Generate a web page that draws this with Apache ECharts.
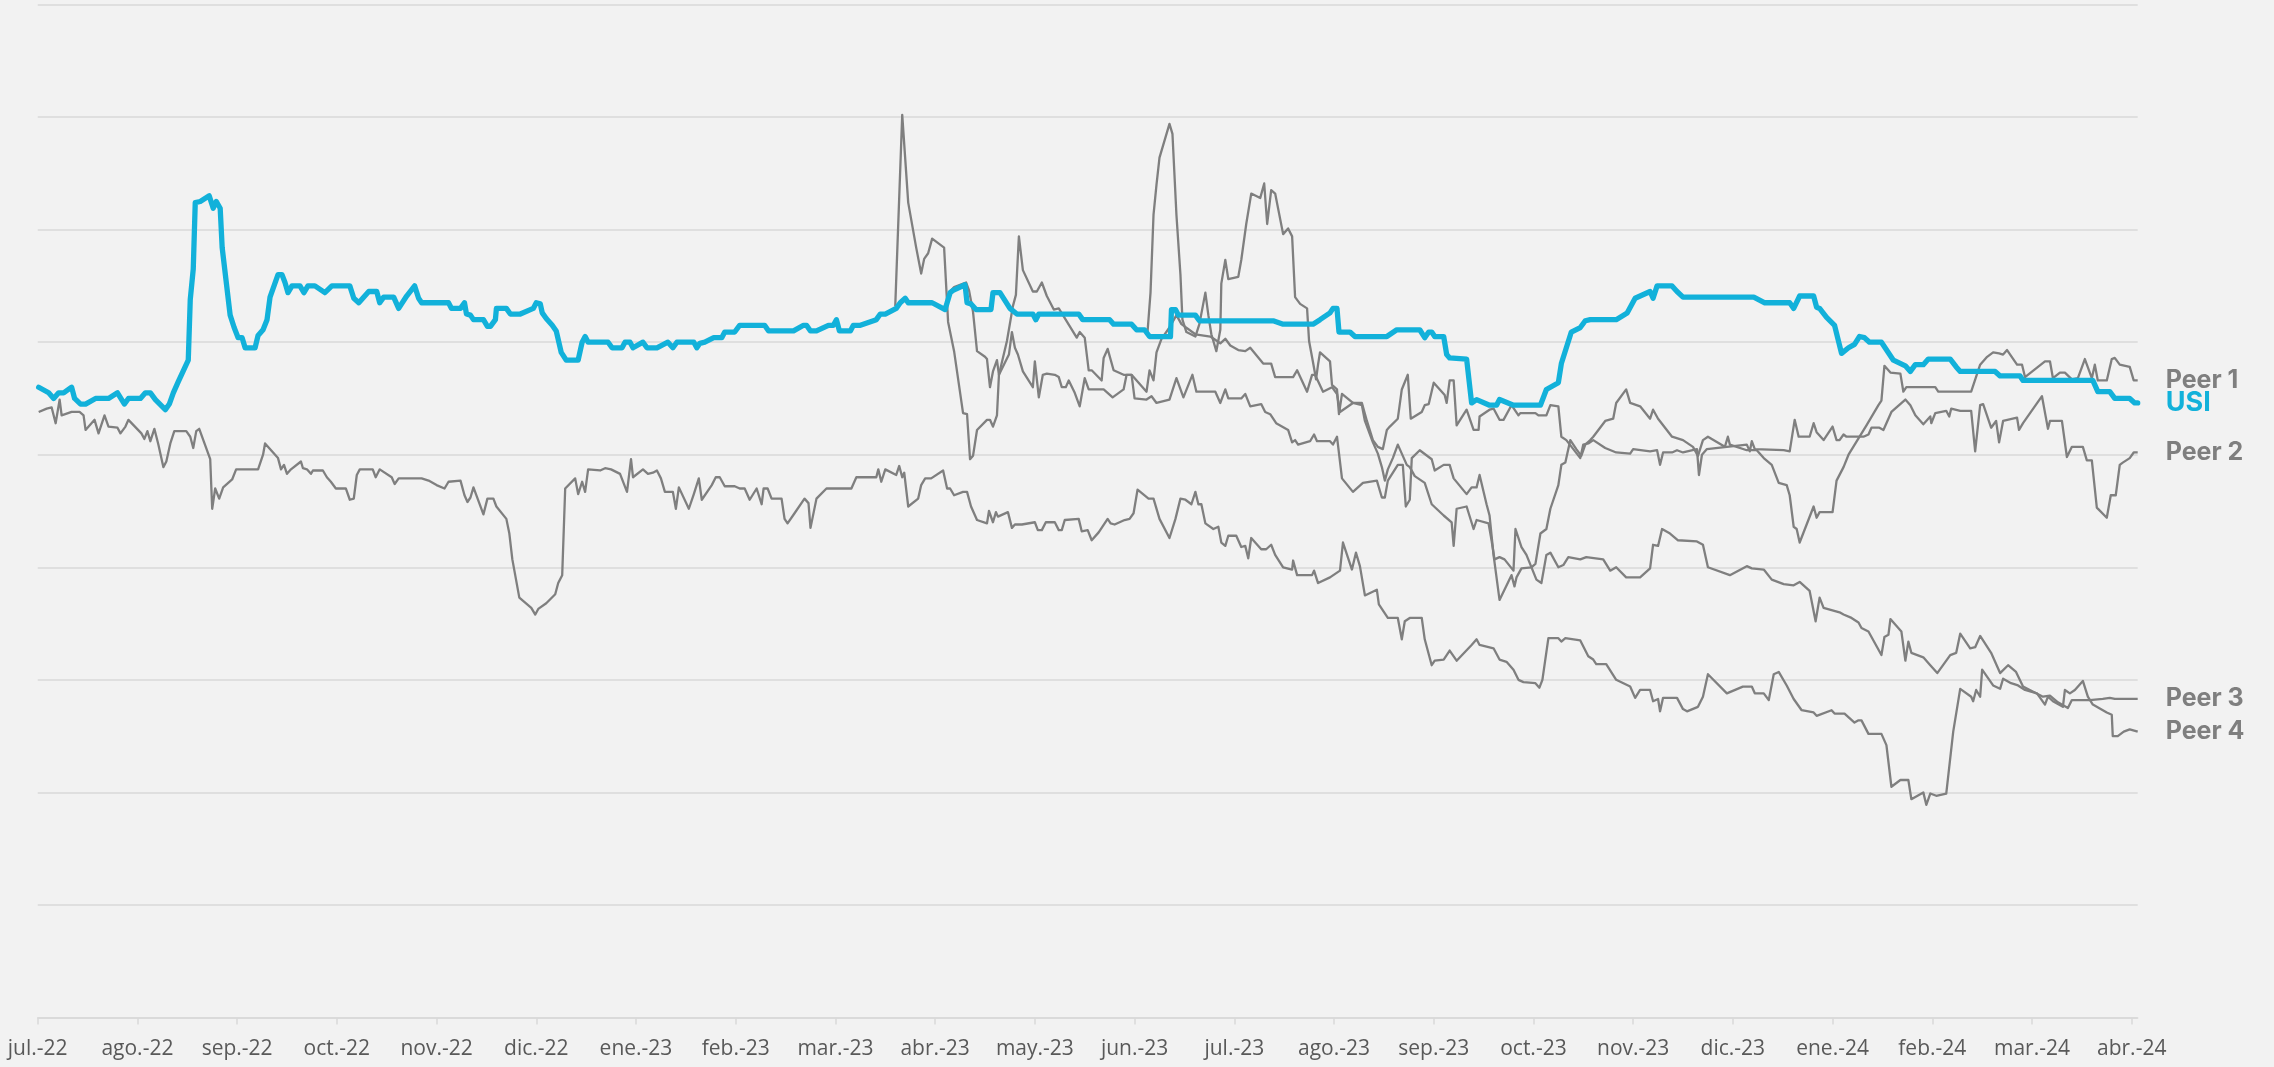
<!DOCTYPE html>
<html>
<head>
<meta charset="utf-8">
<script src="https://cdn.jsdelivr.net/npm/echarts@6/dist/echarts.min.js"></script>
<style>
  html, body { margin: 0; padding: 0; background: #f2f2f2; }
  #chart { width: 2274px; height: 1067px; }
</style>
</head>
<body>
<div id="chart"></div>
<script>
// month tick labels, x is measured in months from jul.-22
const monthLabels = ['jul.-22','ago.-22','sep.-22','oct.-22','nov.-22','dic.-22','ene.-23','feb.-23','mar.-23','abr.-23','may.-23','jun.-23',
  'jul.-23','ago.-23','sep.-23','oct.-23','nov.-23','dic.-23','ene.-24','feb.-24','mar.-24','abr.-24'];
const monthTicks = monthLabels.map((_, i) => i);

const usi = [
  [0.01,5.60],[0.11,5.55],[0.16,5.50],[0.21,5.55],[0.26,5.55],[0.34,5.60],[0.37,5.50],[0.43,5.45],[0.48,5.45],[0.58,5.50],
  [0.71,5.50],[0.80,5.55],[0.87,5.45],[0.91,5.50],[1.03,5.50],[1.08,5.55],[1.13,5.55],[1.18,5.49],[1.28,5.40],[1.32,5.45],
  [1.36,5.55],[1.41,5.65],[1.51,5.84],[1.53,6.38],[1.56,6.65],[1.58,7.24],[1.63,7.25],[1.72,7.30],[1.76,7.19],[1.79,7.25],
  [1.83,7.19],[1.85,6.84],[1.93,6.24],[1.97,6.13],[2.01,6.04],[2.05,6.04],[2.08,5.95],[2.18,5.95],[2.21,6.06],[2.26,6.11],
  [2.30,6.20],[2.33,6.40],[2.41,6.60],[2.45,6.60],[2.48,6.53],[2.51,6.44],[2.55,6.50],[2.63,6.50],[2.67,6.44],[2.71,6.50],
  [2.78,6.50],[2.88,6.44],[2.95,6.50],[3.13,6.50],[3.17,6.39],[3.22,6.35],[3.32,6.45],[3.40,6.45],[3.43,6.35],[3.47,6.40],
  [3.57,6.40],[3.62,6.30],[3.70,6.41],[3.78,6.50],[3.82,6.39],[3.85,6.35],[4.12,6.35],[4.15,6.30],[4.24,6.30],[4.28,6.35],
  [4.30,6.25],[4.34,6.24],[4.37,6.20],[4.47,6.20],[4.51,6.14],[4.54,6.14],[4.59,6.20],[4.60,6.30],[4.70,6.30],[4.74,6.25],
  [4.84,6.25],[4.97,6.30],[5.00,6.35],[5.04,6.34],[5.06,6.26],[5.10,6.21],[5.16,6.15],[5.20,6.10],[5.25,5.91],[5.30,5.84],
  [5.42,5.84],[5.46,6.00],[5.49,6.05],[5.52,6.00],[5.72,6.00],[5.76,5.95],[5.86,5.95],[5.89,6.00],[5.94,6.00],[5.97,5.95],
  [6.07,6.00],[6.11,5.95],[6.21,5.95],[6.32,6.00],[6.37,5.95],[6.41,6.00],[6.58,6.00],[6.61,5.95],[6.64,5.99],[6.69,6.00],
  [6.78,6.04],[6.86,6.04],[6.89,6.09],[6.99,6.09],[7.04,6.15],[7.29,6.15],[7.33,6.10],[7.58,6.10],[7.68,6.15],[7.71,6.15],
  [7.75,6.10],[7.81,6.10],[7.93,6.15],[7.98,6.15],[8.01,6.20],[8.04,6.10],[8.15,6.10],[8.18,6.15],[8.25,6.15],[8.41,6.20],
  [8.45,6.25],[8.50,6.25],[8.61,6.30],[8.65,6.35],[8.70,6.39],[8.73,6.35],[8.97,6.35],[9.10,6.29],[9.15,6.44],[9.18,6.46],
  [9.30,6.51],[9.32,6.35],[9.36,6.34],[9.41,6.29],[9.56,6.29],[9.58,6.44],[9.65,6.44],[9.75,6.30],[9.82,6.25],[9.98,6.25],
  [10.01,6.20],[10.04,6.25],[10.44,6.25],[10.48,6.20],[10.75,6.20],[10.79,6.16],[10.97,6.16],[11.02,6.11],[11.10,6.11],[11.15,6.05],
  [11.36,6.05],[11.37,6.29],[11.41,6.29],[11.44,6.24],[11.61,6.24],[11.65,6.19],[12.39,6.19],[12.49,6.16],[12.79,6.16],[12.86,6.20],
  [12.96,6.26],[12.99,6.30],[13.03,6.30],[13.05,6.09],[13.16,6.09],[13.21,6.05],[13.53,6.05],[13.63,6.11],[13.86,6.11],[13.91,6.04],
  [13.95,6.09],[13.98,6.09],[14.01,6.05],[14.10,6.05],[14.13,5.89],[14.16,5.86],[14.33,5.85],[14.38,5.46],[14.43,5.49],[14.56,5.44],
  [14.63,5.44],[14.66,5.49],[14.80,5.44],[15.07,5.44],[15.13,5.58],[15.25,5.64],[15.28,5.81],[15.38,6.09],[15.47,6.13],[15.52,6.19],
  [15.57,6.20],[15.83,6.20],[15.94,6.26],[16.02,6.39],[16.07,6.41],[16.17,6.45],[16.20,6.39],[16.24,6.50],[16.39,6.50],[16.44,6.45],
  [16.50,6.40],[17.21,6.40],[17.32,6.35],[17.57,6.35],[17.61,6.30],[17.67,6.41],[17.81,6.41],[17.84,6.31],[17.87,6.30],[17.94,6.22],
  [18.02,6.15],[18.09,5.90],[18.16,5.95],[18.22,5.98],[18.27,6.05],[18.32,6.04],[18.37,6.00],[18.49,6.00],[18.61,5.84],[18.73,5.79],
  [18.78,5.74],[18.83,5.80],[18.91,5.80],[18.96,5.85],[19.18,5.85],[19.24,5.78],[19.28,5.74],[19.63,5.74],[19.68,5.70],[19.88,5.70],
  [19.91,5.66],[20.61,5.66],[20.66,5.56],[20.78,5.56],[20.83,5.50],[20.98,5.50],[21.03,5.46],[21.06,5.46]
];

const peer1 = [
  [8.60,6.32],[8.67,8.02],[8.73,7.24],[8.81,6.84],[8.86,6.61],[8.89,6.74],[8.93,6.79],[8.97,6.92],[9.09,6.84],[9.13,6.18],
  [9.19,5.92],[9.28,5.37],[9.32,5.36],[9.35,4.96],[9.38,4.99],[9.42,5.22],[9.52,5.31],[9.55,5.31],[9.58,5.25],[9.62,5.35],
  [9.64,5.71],[9.72,6.01],[9.78,6.32],[9.81,6.42],[9.84,6.94],[9.88,6.64],[9.98,6.45],[10.02,6.45],[10.07,6.53],[10.12,6.41],
  [10.19,6.29],[10.24,6.30],[10.42,6.04],[10.45,6.09],[10.50,6.04],[10.54,5.75],[10.57,5.75],[10.67,5.66],[10.69,5.86],[10.73,5.94],
  [10.79,5.75],[10.89,5.71],[10.97,5.71],[11.00,5.50],[11.12,5.49],[11.17,5.52],[11.22,5.46],[11.35,5.49],[11.42,5.68],[11.49,5.51],
  [11.58,5.71],[11.62,5.56],[11.81,5.56],[11.86,5.46],[11.91,5.58],[11.94,5.50],[12.07,5.50],[12.11,5.54],[12.16,5.43],[12.27,5.45],
  [12.31,5.38],[12.36,5.36],[12.42,5.28],[12.54,5.22],[12.58,5.11],[12.61,5.13],[12.64,5.09],[12.76,5.12],[12.80,5.18],[12.83,5.12],
  [12.96,5.12],[12.99,5.09],[13.03,5.16],[13.08,4.79],[13.19,4.67],[13.29,4.75],[13.43,4.77],[13.48,4.62],[13.51,4.62],[13.54,4.77],
  [13.64,4.91],[13.69,4.91],[13.72,4.54],[13.76,4.60],[13.78,4.97],[13.86,5.04],[13.98,4.96],[14.01,4.86],[14.10,4.91],[14.16,4.91],
  [14.20,4.79],[14.33,4.65],[14.38,4.71],[14.43,4.71],[14.46,4.82],[14.53,4.56],[14.56,4.46],[14.60,4.11],[14.66,3.71],[14.78,3.93],
  [14.81,3.83],[14.83,3.91],[14.88,3.99],[14.98,4.00],[15.02,4.03],[15.07,4.30],[15.13,4.34],[15.17,4.52],[15.25,4.73],[15.28,4.91],
  [15.32,4.93],[15.37,5.13],[15.43,5.05],[15.48,4.99],[15.52,5.09],[15.57,5.13],[15.60,5.16],[15.72,5.30],[15.80,5.32],[15.83,5.46],
  [15.93,5.58],[15.97,5.46],[16.07,5.43],[16.17,5.32],[16.20,5.40],[16.25,5.32],[16.39,5.16],[16.50,5.13],[16.60,5.07],[16.65,4.99],
  [16.70,5.13],[16.75,5.16],[16.92,5.07],[16.95,5.16],[16.97,5.09],[17.14,5.04],[17.24,5.04],[17.31,4.97],[17.39,4.91],[17.46,4.75],
  [17.54,4.73],[17.57,4.64],[17.61,4.36],[17.64,4.34],[17.67,4.22],[17.81,4.54],[17.84,4.44],[17.87,4.49],[18.00,4.49],[18.04,4.77],
  [18.11,4.89],[18.16,5.00],[18.34,5.26],[18.46,5.44],[18.49,5.48],[18.52,5.79],[18.58,5.73],[18.68,5.72],[18.71,5.56],[18.74,5.60],
  [19.03,5.60],[19.06,5.56],[19.39,5.56],[19.48,5.80],[19.55,5.87],[19.61,5.91],[19.67,5.90],[19.71,5.89],[19.75,5.93],[19.85,5.80],
  [19.90,5.80],[19.93,5.69],[20.13,5.83],[20.18,5.83],[20.21,5.68],[20.28,5.73],[20.33,5.73],[20.40,5.67],[20.46,5.68],[20.53,5.85],
  [20.60,5.68],[20.63,5.80],[20.66,5.66],[20.75,5.66],[20.80,5.85],[20.83,5.86],[20.88,5.80],[20.98,5.78],[21.02,5.66],[21.06,5.66]
];

const peer2 = [
  [11.13,6.09],[11.16,6.44],[11.19,7.13],[11.22,7.40],[11.25,7.64],[11.35,7.94],[11.38,7.85],[11.42,7.13],[11.46,6.60],[11.48,6.20],
  [11.52,6.09],[11.61,6.05],[11.65,6.16],[11.71,6.44],[11.74,6.24],[11.77,6.07],[11.82,5.92],[11.86,6.11],[11.87,6.52],[11.91,6.73],
  [11.94,6.56],[12.04,6.58],[12.07,6.73],[12.12,7.05],[12.17,7.32],[12.26,7.28],[12.30,7.41],[12.33,7.05],[12.37,7.35],[12.41,7.32],
  [12.49,6.96],[12.54,7.01],[12.58,6.94],[12.61,6.40],[12.66,6.34],[12.73,6.30],[12.75,6.01],[12.79,5.82],[12.82,5.67],[12.84,5.80],
  [12.86,5.91],[12.96,5.83],[12.98,5.62],[13.03,5.58],[13.05,5.36],[13.08,5.54],[13.19,5.46],[13.28,5.46],[13.33,5.30],[13.39,5.13],
  [13.44,5.07],[13.49,5.05],[13.53,5.22],[13.56,5.25],[13.64,5.32],[13.68,5.58],[13.74,5.71],[13.77,5.32],[13.88,5.38],[13.91,5.44],
  [13.95,5.45],[14.00,5.64],[14.11,5.53],[14.13,5.46],[14.16,5.66],[14.20,5.66],[14.23,5.26],[14.33,5.40],[14.40,5.22],[14.45,5.22],
  [14.46,5.34],[14.56,5.40],[14.60,5.41],[14.66,5.31],[14.70,5.31],[14.78,5.44],[14.85,5.35],[14.87,5.37],[15.02,5.37],[15.05,5.35],
  [15.13,5.35],[15.17,5.44],[15.25,5.43],[15.28,5.16],[15.33,5.13],[15.47,4.97],[15.50,5.09],[15.55,5.10],[15.60,5.13],[15.72,5.06],
  [15.83,5.02],[15.97,5.01],[16.00,5.05],[16.17,5.03],[16.24,5.04],[16.27,4.91],[16.30,5.02],[16.39,5.02],[16.44,5.04],[16.50,5.02],
  [16.64,5.05],[16.66,4.82],[16.69,5.00],[16.74,5.05],[16.94,5.07],[17.14,5.09],[17.17,5.03],[17.19,5.12],[17.22,5.05],[17.51,5.04],
  [17.57,5.03],[17.62,5.31],[17.66,5.16],[17.77,5.16],[17.81,5.28],[17.84,5.20],[17.91,5.13],[18.00,5.25],[18.04,5.13],[18.07,5.13],
  [18.11,5.18],[18.14,5.16],[18.31,5.16],[18.36,5.18],[18.39,5.24],[18.47,5.24],[18.51,5.22],[18.54,5.28],[18.59,5.38],[18.73,5.49],
  [18.78,5.44],[18.83,5.35],[18.91,5.27],[18.98,5.34],[18.99,5.28],[19.03,5.37],[19.14,5.39],[19.17,5.34],[19.19,5.41],[19.28,5.39],
  [19.39,5.39],[19.43,5.03],[19.48,5.44],[19.51,5.45],[19.59,5.24],[19.64,5.30],[19.67,5.11],[19.71,5.30],[19.85,5.33],[19.87,5.22],
  [19.91,5.28],[20.10,5.52],[20.16,5.23],[20.18,5.30],[20.30,5.30],[20.35,4.98],[20.40,5.07],[20.51,5.07],[20.55,4.95],[20.60,4.95],
  [20.65,4.53],[20.75,4.44],[20.79,4.64],[20.84,4.64],[20.88,4.91],[20.91,4.93],[20.98,4.97],[21.02,5.02],[21.06,5.02]
];

const peer3 = [
  [9.14,6.44],[9.19,6.49],[9.31,6.53],[9.34,6.46],[9.38,6.27],[9.42,5.92],[9.50,5.87],[9.52,5.85],[9.55,5.60],[9.58,5.74],
  [9.62,5.84],[9.64,5.71],[9.74,5.89],[9.77,6.09],[9.80,5.95],[9.83,5.89],[9.88,5.74],[9.98,5.60],[10.00,5.83],[10.04,5.51],
  [10.08,5.71],[10.12,5.72],[10.20,5.71],[10.24,5.69],[10.27,5.60],[10.31,5.60],[10.34,5.66],[10.40,5.55],[10.45,5.43],[10.50,5.68],
  [10.54,5.58],[10.69,5.58],[10.78,5.51],[10.80,5.51],[10.89,5.58],[10.92,5.71],[10.97,5.71],[11.12,5.56],[11.15,5.75],[11.19,5.66],
  [11.22,5.91],[11.27,6.03],[11.35,6.13],[11.42,6.24],[11.47,6.16],[11.61,6.07],[11.76,6.05],[11.86,5.99],[11.91,6.03],[11.96,5.97],
  [12.04,5.93],[12.11,5.92],[12.16,5.95],[12.29,5.81],[12.37,5.81],[12.41,5.69],[12.59,5.69],[12.63,5.75],[12.73,5.56],[12.78,5.71],
  [12.81,5.71],[12.89,5.56],[12.98,5.60],[13.03,5.54],[13.06,5.38],[13.19,5.46],[13.28,5.44],[13.31,5.30],[13.39,5.11],[13.44,5.01],
  [13.48,4.89],[13.51,4.77],[13.54,4.87],[13.59,4.97],[13.64,5.09],[13.69,4.99],[13.73,4.91],[13.76,4.89],[13.81,4.81],[13.91,4.75],
  [13.98,4.56],[14.10,4.46],[14.18,4.40],[14.20,4.19],[14.23,4.52],[14.33,4.54],[14.40,4.34],[14.43,4.42],[14.55,4.39],[14.58,4.24],
  [14.61,4.07],[14.66,4.09],[14.71,4.07],[14.80,3.97],[14.82,4.34],[14.88,4.18],[14.93,4.11],[15.03,3.89],[15.08,3.86],[15.13,4.11],
  [15.17,4.13],[15.25,4.00],[15.30,4.02],[15.35,4.09],[15.47,4.07],[15.53,4.09],[15.70,4.07],[15.77,3.97],[15.83,4.00],[15.93,3.91],
  [16.07,3.91],[16.17,3.99],[16.20,4.20],[16.25,4.19],[16.29,4.34],[16.37,4.30],[16.45,4.24],[16.64,4.23],[16.70,4.20],[16.75,4.00],
  [16.97,3.93],[17.14,4.01],[17.19,3.99],[17.31,3.98],[17.39,3.89],[17.51,3.85],[17.61,3.84],[17.67,3.87],[17.77,3.79],[17.83,3.52],
  [17.87,3.73],[17.91,3.64],[18.07,3.60],[18.11,3.58],[18.19,3.55],[18.26,3.51],[18.29,3.46],[18.36,3.43],[18.49,3.22],[18.52,3.38],
  [18.56,3.40],[18.58,3.54],[18.69,3.43],[18.73,3.17],[18.76,3.34],[18.79,3.24],[18.91,3.20],[18.98,3.13],[19.05,3.06],[19.18,3.22],
  [19.24,3.24],[19.28,3.41],[19.38,3.28],[19.43,3.29],[19.48,3.39],[19.59,3.24],[19.68,3.06],[19.76,3.13],[19.84,3.07],[19.91,2.94],
  [20.11,2.85],[20.18,2.86],[20.26,2.80],[20.36,2.75],[20.40,2.82],[20.58,2.82],[20.71,2.83],[20.78,2.84],[20.83,2.83],[21.06,2.83]
];

const peer4 = [
  [0.01,5.38],[0.09,5.41],[0.14,5.42],[0.18,5.28],[0.22,5.49],[0.24,5.35],[0.34,5.38],[0.42,5.38],[0.46,5.35],[0.48,5.22],
  [0.57,5.31],[0.61,5.19],[0.67,5.35],[0.71,5.25],[0.80,5.24],[0.83,5.19],[0.88,5.25],[0.91,5.31],[0.93,5.31],[1.04,5.19],
  [1.07,5.14],[1.10,5.21],[1.13,5.12],[1.17,5.23],[1.21,5.09],[1.26,4.89],[1.29,4.94],[1.33,5.10],[1.37,5.21],[1.39,5.22],
  [1.49,5.21],[1.53,5.16],[1.56,5.06],[1.59,5.21],[1.62,5.23],[1.73,4.96],[1.75,4.52],[1.78,4.70],[1.82,4.61],[1.86,4.71],
  [1.95,4.78],[1.99,4.87],[2.21,4.87],[2.26,5.00],[2.28,5.10],[2.41,4.97],[2.44,4.87],[2.47,4.91],[2.50,4.83],[2.54,4.87],
  [2.64,4.94],[2.66,4.88],[2.70,4.87],[2.74,4.83],[2.76,4.86],[2.86,4.86],[2.90,4.80],[2.94,4.76],[2.96,4.76],[2.99,4.70],
  [3.09,4.70],[3.13,4.60],[3.17,4.61],[3.20,4.82],[3.23,4.87],[3.36,4.87],[3.39,4.80],[3.43,4.87],[3.55,4.80],[3.58,4.74],
  [3.62,4.79],[3.85,4.79],[3.92,4.77],[4.00,4.73],[4.08,4.70],[4.12,4.76],[4.24,4.77],[4.28,4.64],[4.31,4.58],[4.34,4.62],
  [4.37,4.71],[4.47,4.47],[4.51,4.61],[4.57,4.61],[4.60,4.54],[4.70,4.43],[4.73,4.30],[4.76,4.07],[4.83,3.73],[4.95,3.64],
  [4.99,3.58],[5.02,3.63],[5.10,3.68],[5.19,3.76],[5.22,3.86],[5.26,3.93],[5.29,4.70],[5.39,4.79],[5.42,4.65],[5.46,4.76],
  [5.49,4.67],[5.52,4.87],[5.64,4.86],[5.69,4.88],[5.75,4.87],[5.84,4.83],[5.91,4.67],[5.95,4.96],[5.97,4.80],[6.07,4.87],
  [6.12,4.83],[6.17,4.84],[6.21,4.86],[6.25,4.79],[6.29,4.67],[6.37,4.67],[6.40,4.52],[6.43,4.71],[6.53,4.52],[6.58,4.65],
  [6.63,4.79],[6.66,4.60],[6.76,4.73],[6.80,4.80],[6.84,4.80],[6.89,4.72],[6.99,4.72],[7.04,4.70],[7.09,4.70],[7.14,4.60],
  [7.21,4.70],[7.26,4.56],[7.28,4.70],[7.32,4.70],[7.36,4.61],[7.46,4.61],[7.49,4.43],[7.52,4.39],[7.59,4.48],[7.69,4.61],
  [7.73,4.57],[7.75,4.35],[7.81,4.61],[7.91,4.70],[8.16,4.70],[8.21,4.80],[8.41,4.80],[8.43,4.87],[8.46,4.76],[8.50,4.87],
  [8.61,4.82],[8.64,4.90],[8.67,4.80],[8.69,4.84],[8.73,4.54],[8.83,4.61],[8.86,4.73],[8.90,4.79],[8.96,4.79],[9.08,4.86],
  [9.12,4.70],[9.15,4.70],[9.19,4.64],[9.28,4.67],[9.32,4.67],[9.36,4.54],[9.38,4.54],[9.42,4.42],[9.52,4.39],[9.54,4.50],
  [9.58,4.40],[9.61,4.49],[9.63,4.45],[9.73,4.49],[9.77,4.35],[9.80,4.38],[9.87,4.38],[10.00,4.40],[10.03,4.33],[10.07,4.33],
  [10.11,4.40],[10.20,4.40],[10.24,4.33],[10.27,4.33],[10.30,4.42],[10.44,4.43],[10.47,4.32],[10.53,4.33],[10.57,4.24],[10.64,4.31],
  [10.67,4.35],[10.69,4.35],[10.73,4.43],[10.76,4.39],[10.80,4.38],[10.90,4.42],[10.95,4.43],[10.99,4.48],[11.03,4.69],[11.14,4.61],
  [11.19,4.61],[11.25,4.43],[11.35,4.26],[11.41,4.43],[11.46,4.61],[11.51,4.60],[11.57,4.56],[11.61,4.67],[11.64,4.56],[11.67,4.56],
  [11.71,4.39],[11.79,4.34],[11.84,4.36],[11.87,4.22],[11.91,4.19],[11.94,4.28],[12.02,4.28],[12.07,4.18],[12.11,4.19],[12.14,4.08],
  [12.17,4.26],[12.27,4.16],[12.32,4.16],[12.37,4.20],[12.41,4.11],[12.49,4.00],[12.58,3.98],[12.59,4.06],[12.63,3.93],[12.78,3.93],
  [12.80,3.97],[12.84,3.86],[12.96,3.91],[13.06,3.97],[13.09,4.22],[13.18,3.98],[13.22,4.13],[13.26,4.01],[13.31,3.75],[13.43,3.80],
  [13.45,3.67],[13.54,3.55],[13.64,3.55],[13.68,3.36],[13.71,3.52],[13.76,3.55],[13.88,3.55],[13.91,3.36],[13.98,3.13],[14.01,3.17],
  [14.10,3.18],[14.16,3.26],[14.23,3.17],[14.38,3.31],[14.43,3.36],[14.46,3.31],[14.60,3.28],[14.66,3.18],[14.73,3.16],[14.80,3.09],
  [14.85,3.00],[14.90,2.98],[15.02,2.97],[15.06,2.93],[15.09,3.00],[15.15,3.37],[15.25,3.37],[15.28,3.34],[15.32,3.37],[15.47,3.35],
  [15.55,3.21],[15.60,3.18],[15.63,3.14],[15.73,3.14],[15.83,3.00],[15.97,2.94],[16.02,2.84],[16.07,2.91],[16.17,2.91],[16.20,2.81],
  [16.25,2.83],[16.27,2.72],[16.30,2.84],[16.44,2.84],[16.50,2.74],[16.54,2.72],[16.65,2.76],[16.70,2.85],[16.75,3.05],[16.94,2.88],
  [17.10,2.94],[17.19,2.94],[17.22,2.88],[17.31,2.88],[17.36,2.82],[17.41,3.05],[17.46,3.07],[17.54,2.95],[17.61,2.83],[17.69,2.73],
  [17.81,2.71],[17.84,2.68],[17.99,2.73],[18.02,2.70],[18.12,2.70],[18.22,2.62],[18.26,2.64],[18.29,2.64],[18.36,2.52],[18.49,2.52],
  [18.54,2.42],[18.59,2.05],[18.68,2.11],[18.76,2.11],[18.79,1.94],[18.91,2.00],[18.94,1.89],[18.98,1.99],[19.04,1.97],[19.14,1.99],
  [19.21,2.54],[19.28,2.92],[19.39,2.85],[19.41,2.81],[19.44,2.91],[19.48,2.85],[19.50,3.09],[19.61,2.95],[19.68,2.92],[19.71,3.01],
  [19.79,2.97],[19.86,2.95],[19.93,2.91],[20.05,2.88],[20.13,2.78],[20.16,2.85],[20.21,2.81],[20.31,2.76],[20.33,2.91],[20.38,2.88],
  [20.43,2.91],[20.51,2.99],[20.56,2.85],[20.61,2.78],[20.75,2.71],[20.80,2.69],[20.81,2.50],[20.86,2.50],[20.92,2.54],[20.98,2.56],
  [21.06,2.54]
];

const grey = '#7f7f7f';
const blue = '#12b1da';

function peerSeries(name, data) {
  return {
    name: name,
    type: 'line',
    data: data,
    showSymbol: false,
    lineStyle: { color: grey, width: 2.3, join: 'round' },
    endLabel: {
      show: true,
      formatter: '{a}',
      distance: 28,
      color: grey,
      fontFamily: 'Inter',
      fontWeight: 'bold',
      fontSize: 25
    }
  };
}

const chart = echarts.init(document.getElementById('chart'));
chart.setOption({
  animation: false,
  backgroundColor: '#f2f2f2',
  grid: { left: 37.7, right: 136.3, top: 4.5, bottom: 49.5 },
  xAxis: {
    type: 'value',
    min: 0,
    max: 21.06,
    splitLine: { show: false },
    axisLine: { lineStyle: { color: '#d9d9d9', width: 1.6 } },
    axisTick: { show: true, length: 7, lineStyle: { color: '#d9d9d9', width: 1.5 }, customValues: monthTicks },
    axisLabel: {
      customValues: monthTicks,
      formatter: v => monthLabels[Math.round(v)],
      color: '#595959',
      fontFamily: 'Open Sans',
      fontSize: 21,
      margin: 21
    }
  },
  yAxis: {
    type: 'value',
    min: 0,
    max: 9,
    interval: 1,
    axisLabel: { show: false },
    axisLine: { show: false },
    axisTick: { show: false },
    splitLine: { lineStyle: { color: '#d9d9d9', width: 1.6 } }
  },
  series: [
    peerSeries('Peer 1', peer1),
    peerSeries('Peer 2', peer2),
    peerSeries('Peer 3', peer3),
    peerSeries('Peer 4', peer4),
    {
      name: 'USI',
      type: 'line',
      data: usi,
      showSymbol: false,
      lineStyle: { color: blue, width: 5.3, join: 'round', cap: 'round' },
      endLabel: {
        show: true,
        formatter: '{a}',
        distance: 28,
        color: blue,
        fontFamily: 'Inter',
        fontWeight: 'bold',
        fontSize: 27
      }
    }
  ]
});
</script>
</body>
</html>
